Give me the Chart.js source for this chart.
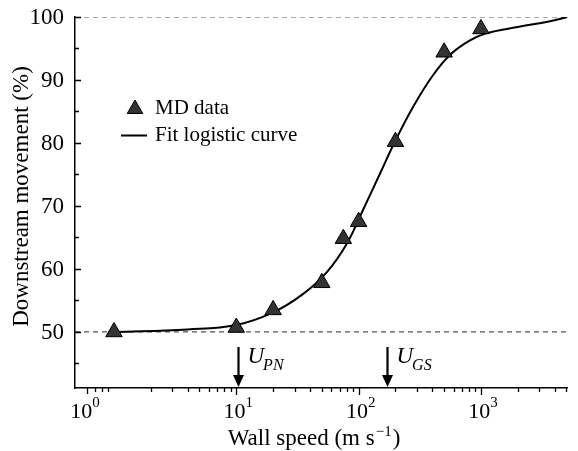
<!DOCTYPE html>
<html>
<head>
<meta charset="utf-8">
<script src="https://cdn.jsdelivr.net/npm/chart.js@4.4.0/dist/chart.umd.min.js"></script>
<style>
html, body { margin: 0; padding: 0; background: #fff; }
#wrap { width: 578px; height: 451px; }
</style>
</head>
<body>
<div id="wrap"><canvas id="grafik"></canvas></div>
<script>
// MD points
const mdSpeed = [1, 10, 20, 50, 75, 100, 200, 500, 1000]
const mdMove = [50.0, 50.7, 53.5, 57.8, 64.8, 67.5, 80.2, 94.4, 98.1]
// fit curve
const fitSpeed = [1, 4, 10, 20, 35, 55, 80, 110, 150, 200, 280, 400, 560, 800, 1100, 2000, 3600, 5100]
const fitMove = [50.0, 50.4, 51.1, 53.1, 56.0, 59.5, 64.0, 69.6, 75.2, 80.4, 85.8, 90.6, 94.0, 96.2, 97.4, 98.4, 99.3, 100]
// ranges & ticks
const xRange = [0.48, 5100]
const yRange = [41.1, 100]
const yTicks = [50, 60, 70, 80, 90, 100]
const yMinor = [45, 55, 65, 75, 85, 95]
const xMajor = [10, 100, 1000]
const xMinor = [0.6, 0.7, 0.8, 0.9, 2, 3, 4, 5, 6, 7, 8, 9, 20, 30, 40, 50, 60, 70, 80, 90,
	200, 300, 400, 500, 600, 700, 800, 900, 2000, 3000, 4000, 5000]
const xLabelAt = [1, 10, 100, 1000]
const xLabelExp = ['0', '1', '2', '3']
const dashedLevels = [50, 100]
const arrowAt = [10.4, 170]
const arrowSub = ['PN', 'GS']

const serif = '"Liberation Serif", "Times New Roman", serif'

const bezak = {
	id: 'bezak',
	afterDraw(chart) {
		const { ctx, chartArea: a, scales } = chart
		const x = scales.x, y = scales.y
		ctx.save()
		ctx.strokeStyle = '#000'
		ctx.fillStyle = '#000'
		ctx.lineWidth = 1.3
		// y ticks, pointing inward
		ctx.beginPath()
		yTicks.forEach(v => { const p = Math.round(y.getPixelForValue(v)) + 0.5; ctx.moveTo(a.left, p); ctx.lineTo(a.left + 6, p) })
		yMinor.forEach(v => { const p = Math.round(y.getPixelForValue(v)) + 0.5; ctx.moveTo(a.left, p); ctx.lineTo(a.left + 4, p) })
		// x ticks, pointing outward
		xMajor.forEach(v => { const p = Math.round(x.getPixelForValue(v)) + 0.5; ctx.moveTo(p, a.bottom); ctx.lineTo(p, a.bottom + 7) })
		xMinor.forEach((v, i) => {
			const p = Math.round(x.getPixelForValue(v)) + 0.5
			ctx.moveTo(p, a.bottom); ctx.lineTo(p, a.bottom + (i === 0 ? 6 : 4))
		})
		ctx.stroke()

		// y tick labels
		ctx.font = '23px ' + serif
		ctx.textAlign = 'right'
		ctx.textBaseline = 'middle'
		yTicks.forEach(v => ctx.fillText(String(v), a.left - 11, y.getPixelForValue(v) + 1))

		// x tick labels 10^n
		ctx.textBaseline = 'alphabetic'
		xLabelAt.forEach((v, i) => {
			let cx = x.getPixelForValue(v)
			if (i === 0) cx -= 31 // the reference prints 10^0 left of its spot
			ctx.font = '22px ' + serif
			const w1 = ctx.measureText('10').width
			ctx.font = '15px ' + serif
			const w2 = ctx.measureText(xLabelExp[i]).width
			const x0 = cx - (w1 + w2) / 2 + 2
			ctx.font = '22px ' + serif
			ctx.textAlign = 'left'
			ctx.fillText('10', x0, a.bottom + 30)
			ctx.font = '15px ' + serif
			ctx.fillText(xLabelExp[i], x0 + w1, a.bottom + 19)
		})

		// axis titles
		ctx.font = '23px ' + serif
		const t1 = 'Wall speed (m s', t2 = '\u22121', t3 = ')'
		const w1 = ctx.measureText(t1).width, w3 = ctx.measureText(t3).width
		ctx.font = '15px ' + serif
		const w2 = ctx.measureText(t2).width
		let tx = 313 - (w1 + w2 + w3) / 2
		ctx.font = '23px ' + serif
		ctx.fillText(t1, tx, 445)
		ctx.font = '15px ' + serif
		ctx.fillText(t2, tx + w1 + 1, 436)
		ctx.font = '23px ' + serif
		ctx.fillText(t3, tx + w1 + w2 + 2, 445)

		ctx.save()
		ctx.translate(22, (a.top + a.bottom) / 2 - 6)
		ctx.rotate(-Math.PI / 2)
		ctx.textAlign = 'center'
		ctx.textBaseline = 'middle'
		ctx.font = '23px ' + serif
		ctx.fillText('Downstream movement (%)', 0, 0)
		ctx.restore()

		// arrows with U labels
		arrowAt.forEach((v, i) => {
			const px = Math.round(x.getPixelForValue(v)) + 0.5
			ctx.lineWidth = 2.2
			ctx.beginPath()
			ctx.moveTo(px, a.bottom - 41)
			ctx.lineTo(px, a.bottom - 12)
			ctx.stroke()
			ctx.beginPath()
			ctx.moveTo(px - 5.5, a.bottom - 13)
			ctx.lineTo(px + 5.5, a.bottom - 13)
			ctx.lineTo(px, a.bottom - 1)
			ctx.closePath()
			ctx.fill()
			ctx.textAlign = 'left'
			ctx.textBaseline = 'alphabetic'
			ctx.font = 'italic 23px ' + serif
			ctx.fillText('U', px + 9, a.bottom - 25)
			const wu = ctx.measureText('U').width
			ctx.font = 'italic 16px ' + serif
			ctx.fillText(arrowSub[i], px + 9 + wu - 1, a.bottom - 18)
		})

		// legend
		const lx = 135, ly = 109, r = 9
		ctx.beginPath()
		ctx.moveTo(lx, ly - r)
		ctx.lineTo(lx + r * Math.sin(Math.PI * 2 / 3), ly + r / 2)
		ctx.lineTo(lx - r * Math.sin(Math.PI * 2 / 3), ly + r / 2)
		ctx.closePath()
		ctx.fillStyle = '#333'
		ctx.fill()
		ctx.lineWidth = 1
		ctx.stroke()
		ctx.lineWidth = 2
		ctx.beginPath()
		ctx.moveTo(121, 135.5)
		ctx.lineTo(147, 135.5)
		ctx.stroke()
		ctx.fillStyle = '#000'
		ctx.font = '21px ' + serif
		ctx.fillText('MD data', 155, 114)
		ctx.fillText('Fit logistic curve', 155, 141)
		ctx.restore()
	},
}

const dashedSets = dashedLevels.map(l => ({
	type: 'line',
	data: [{ x: xRange[0], y: l }, { x: xRange[1], y: l }],
	borderColor: '#555',
	borderWidth: 1.2,
	borderDash: [5, 4],
	pointRadius: 0,
	order: 3,
}))

const ctx = document.getElementById('grafik').getContext('2d')
const grafik = new Chart(ctx, {
	type: 'scatter',
	data: {
		datasets: [
			{
				label: 'MD data',
				data: mdSpeed.map((s, i) => ({ x: s, y: mdMove[i] })),
				pointStyle: 'triangle',
				pointRadius: 9.5,
				backgroundColor: '#333',
				borderColor: '#000',
				borderWidth: 1,
				order: 1,
			},
			{
				label: 'Fit logistic curve',
				type: 'line',
				data: fitSpeed.map((s, i) => ({ x: s, y: fitMove[i] })),
				borderColor: '#000',
				borderWidth: 2,
				pointRadius: 0,
				tension: 0.4,
				order: 2,
			},
			...dashedSets,
		],
	},
	options: {
		responsive: true,
		maintainAspectRatio: false,
		animation: false,
		layout: { padding: { top: 17, right: 8, left: 0, bottom: 0 } },
		plugins: { legend: { display: false }, tooltip: { enabled: false } },
		scales: {
			x: {
				type: 'logarithmic',
				min: xRange[0],
				max: xRange[1],
				grid: { display: false },
				border: { color: '#000', width: 1.5 },
				ticks: { display: false },
				afterFit: s => { s.height = 63 },
			},
			y: {
				min: yRange[0],
				max: yRange[1],
				grid: { display: false },
				border: { color: '#000', width: 1.5 },
				ticks: { display: false },
				afterFit: s => { s.width = 75 },
			},
		},
	},
	plugins: [bezak],
})
</script>
</body>
</html>
